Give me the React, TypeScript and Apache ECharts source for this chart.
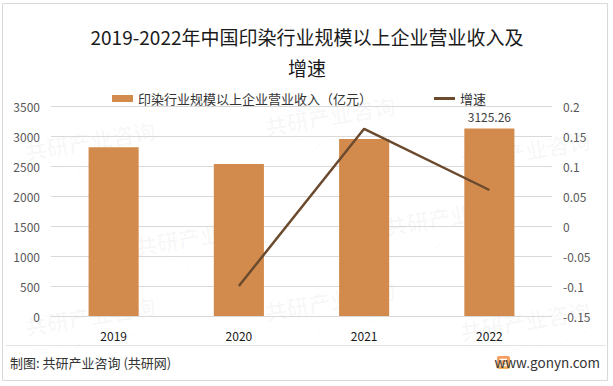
import React, { useEffect, useRef } from "react";
import * as echarts from "echarts";

const categories = ["2019", "2020", "2021", "2022"];
const revenue = [2812, 2535, 2952, 3125.26];
const growth = [null, -0.1, 0.162, 0.06];
const leftTicks = { min: 0, max: 3500, interval: 500 };
const rightTicks = { min: -0.15, max: 0.2, interval: 0.05 };
const titleLines = ["2019-2022年中国印染行业规模以上企业营业收入及", "增速"];
const barName = "印染行业规模以上企业营业收入（亿元）";
const lineName = "增速";
const footerLeft = "制图: 共研产业咨询 (共研网)";
const footerRight = "www.gonyn.com";

const FONT = "'Noto Sans CJK SC', 'Noto Sans', sans-serif";
const BAR_COLOR = "#D38B4D";
const LINE_COLOR = "#6B4A2E";
const WM = "rgba(0,0,0,0.03)";

function watermark(x: number, y: number) {
  return {
    type: "group",
    x,
    y,
    rotation: 0.17,
    silent: true,
    z: -10,
    children: [
      {
        type: "text",
        style: {
          x: 0,
          y: 0,
          text: "共研产业咨询",
          fontSize: 22,
          fontWeight: "bold",
          fontFamily: FONT,
          fill: WM,
          align: "center",
          verticalAlign: "middle",
        },
      },
      {
        type: "text",
        style: {
          x: 0,
          y: 22,
          text: "w w w . g o n y n . c o m",
          fontSize: 12,
          fontFamily: FONT,
          fill: WM,
          align: "center",
          verticalAlign: "middle",
        },
      },
    ],
  };
}

export default function App() {
  const ref = useRef<HTMLDivElement>(null);
  useEffect(() => {
    if (!ref.current) return;
    const chart = echarts.init(ref.current, null, { renderer: "svg" });
    const barData = revenue.map((v, i) =>
      i === revenue.length - 1
        ? { value: v, label: { show: true } }
        : { value: v }
    );
    chart.setOption({
      animation: false,
      backgroundColor: "#ffffff",
      legend: {
        left: 107,
        top: 87,
        itemGap: 62,
        itemWidth: 21,
        itemHeight: 7,
        textStyle: { fontSize: 13, color: "#333", fontFamily: FONT },
        data: [
          { name: barName, icon: "rect" },
          { name: lineName, icon: "path://M0,0 H21 V3 H0 Z", itemStyle: { color: LINE_COLOR } },
        ],
      },
      grid: { left: 51, right: 61, top: 106, bottom: 70 },
      xAxis: {
        type: "category",
        data: categories,
        axisLine: { lineStyle: { color: "#d9d9d9" } },
        axisTick: { show: false },
        axisLabel: { color: "#1a1a1a", fontSize: 12, margin: 13, fontFamily: FONT },
      },
      yAxis: [
        {
          type: "value",
          min: leftTicks.min,
          max: leftTicks.max,
          interval: leftTicks.interval,
          axisLine: { show: false },
          axisTick: { show: false },
          splitLine: { lineStyle: { color: "#d9d9d9" } },
          axisLabel: {
            color: "#595959",
            fontSize: 12,
            margin: 11,
            fontFamily: FONT,
            formatter: (v: number) => String(v),
          },
        },
        {
          type: "value",
          min: rightTicks.min,
          max: rightTicks.max,
          interval: rightTicks.interval,
          axisLine: { show: false },
          axisTick: { show: false },
          splitLine: { show: false },
          axisLabel: {
            color: "#595959",
            fontSize: 12,
            margin: 11,
            fontFamily: FONT,
            formatter: (v: number) => String(parseFloat(v.toFixed(2))),
          },
        },
      ],
      series: [
        {
          name: barName,
          type: "bar",
          data: barData,
          barWidth: "40%",
          itemStyle: { color: BAR_COLOR },
          label: {
            show: false,
            position: "top",
            distance: 6,
            color: "#404040",
            fontSize: 12,
            fontFamily: FONT,
          },
        },
        {
          name: lineName,
          type: "line",
          yAxisIndex: 1,
          data: growth,
          symbol: "none",
          connectNulls: false,
          lineStyle: { color: LINE_COLOR, width: 2.5 },
          itemStyle: { color: LINE_COLOR },
        },
      ],
      graphic: [
        watermark(90, 140),
        watermark(330, 115),
        watermark(525, 150),
        watermark(200, 235),
        watermark(450, 215),
        watermark(90, 315),
        watermark(330, 300),
        watermark(525, 320),
        {
          type: "text",
          style: {
            x: 307,
            y: 36,
            text: titleLines[0],
            fontSize: 19,
            fontFamily: FONT,
            fill: "#1a1a1a",
            align: "center",
            verticalAlign: "middle",
          },
        },
        {
          type: "text",
          style: {
            x: 307,
            y: 67,
            text: titleLines[1],
            fontSize: 19,
            fontFamily: FONT,
            fill: "#1a1a1a",
            align: "center",
            verticalAlign: "middle",
          },
        },
        {
          type: "rect",
          shape: { x: 2.5, y: 3.5, width: 605, height: 377 },
          style: { fill: "none", stroke: "#d9d9d9", lineWidth: 1 },
          silent: true,
        },
        {
          type: "line",
          shape: { x1: 6, y1: 345.5, x2: 606, y2: 345.5 },
          style: { stroke: "#e3e3e3", lineWidth: 1 },
          silent: true,
        },
        {
          type: "text",
          style: {
            x: 10,
            y: 362,
            text: footerLeft,
            fontSize: 13,
            fontFamily: FONT,
            fill: "#333",
            verticalAlign: "middle",
          },
        },
        {
          type: "rect",
          shape: { x: 497, y: 356, width: 13, height: 13, r: 2 },
          style: {
            fill: new echarts.graphic.LinearGradient(0, 0, 0, 1, [
              { offset: 0, color: "#f79b5c" },
              { offset: 1, color: "#f5b25c" },
            ]),
          },
        },
        {
          type: "polyline",
          shape: {
            points: [
              [507, 359.5],
              [500.5, 359.5],
              [500.5, 365.5],
              [506.5, 365.5],
              [506.5, 362.5],
              [503.5, 362.5],
            ],
          },
          style: { stroke: "#ffffff", lineWidth: 1.6, fill: "none" },
        },
        {
          type: "text",
          style: {
            x: 600,
            y: 362,
            text: footerRight,
            fontSize: 13.5,
            fontFamily: FONT,
            fill: "#333",
            align: "right",
            verticalAlign: "middle",
          },
        },
      ],
    });
    return () => chart.dispose();
  }, []);
  return (
    <div
      ref={ref}
      style={{ position: "fixed", left: 0, top: 0, width: 613, height: 386 }}
    />
  );
}
